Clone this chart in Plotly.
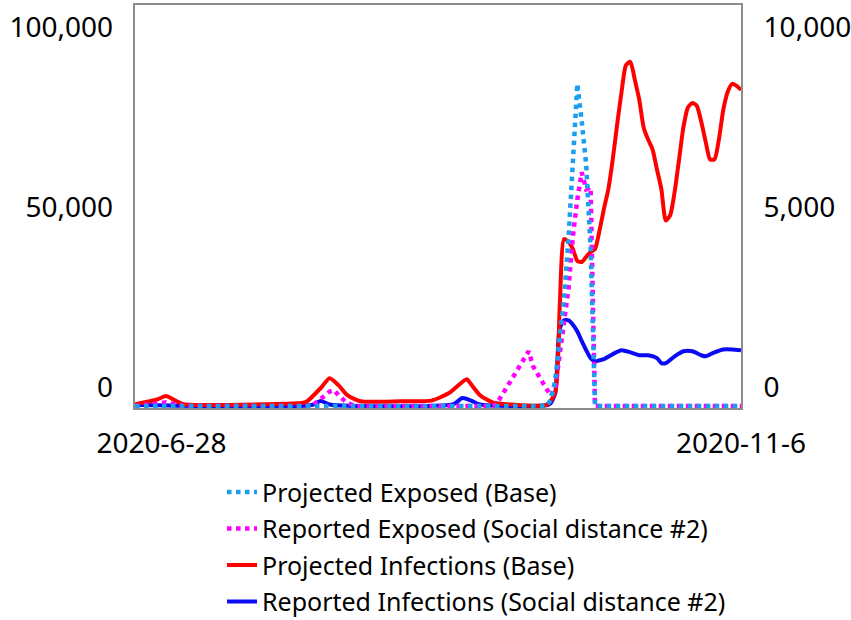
import pandas as pd
import plotly.graph_objects as go

# ---------------- data ----------------
start_date = "2020-06-22"
end_date = "2020-11-06"
xtick_dates = ["2020-06-28", "2020-11-06"]
xtick_labels = ["2020-6-28", "2020-11-6"]

left_ticks = [0, 50000, 100000]
left_labels = ["0", "50,000", "100,000"]
right_ticks = [0, 5000, 10000]
right_labels = ["0", "5,000", "10,000"]

# Projected Exposed (Base) - left axis
pe_days = [0, 93, 94, 95, 96, 97, 98, 99, 100, 101, 102, 103, 104, 137]
pe_vals = [0, 0, 1700, 7200, 18800, 29800, 46400, 68500, 89500, 79000, 67100, 43600, 0, 0]

# Reported Exposed (Social distance #2) - left axis
re_days = [0, 5, 7, 9, 11, 40, 42, 44, 45, 46, 48, 50, 81, 82, 84, 86, 88, 89, 90, 91,
           92, 93, 94, 95, 96, 97, 98, 99, 100, 101, 102, 103, 104, 137]
re_vals = [0, 500, 1000, 500, 0, 0, 2200, 4000, 4400, 3000, 800, 0, 0, 1100, 5100, 9100,
           13100, 15200, 11000, 9000, 6500, 4500, 2800, 5000, 14400, 22900, 32600, 47200,
           57400, 64900, 60200, 60800, 0, 0]

# Projected Infections (Base) - right axis
pi_days = [0, 5, 7, 9, 11, 30, 38, 39, 42, 44, 46, 48, 51, 60, 67, 71, 75, 76, 78, 81,
           85, 93, 95, 96, 97, 98, 99, 100, 101, 102, 103, 104, 105, 106, 107, 108, 109,
           110, 111, 112, 113, 114, 115, 116, 117, 118, 119, 120, 121, 122, 123, 124,
           125, 126, 127, 128, 129, 130, 131, 132, 133, 134, 135, 136, 137]
pi_vals = [50, 180, 276, 160, 50, 50, 90, 140, 500, 770, 580, 300, 130, 130, 150, 360,
           746, 600, 300, 90, 40, 30, 360, 2700, 4640, 4560, 4360, 4030, 4000, 4140,
           4280, 4360, 4860, 5470, 6020, 6850, 7820, 8730, 9470, 9560, 9060, 8510, 7730,
           7400, 7130, 6570, 6020, 5150, 5300, 5950, 6850, 7760, 8290, 8420, 8340, 7900,
           7350, 6850, 6850, 7400, 8230, 8730, 8950, 8890, 8780]

# Reported Infections (Social distance #2) - right axis
ri_days = [0, 40, 42, 44, 72, 74, 76, 78, 93, 94, 95, 96, 97, 98, 99, 100, 101, 102, 103,
           104, 105, 106, 108, 110, 112, 114, 116, 118, 119, 120, 122, 124, 126, 128, 129,
           131, 133, 135, 137]
ri_vals = [30, 30, 140, 40, 50, 220, 150, 40, 20, 80, 360, 2150, 2380, 2380, 2260, 2070,
           1800, 1550, 1330, 1240, 1270, 1300, 1440, 1550, 1490, 1410, 1410, 1330, 1190,
           1190, 1380, 1520, 1520, 1410, 1380, 1490, 1570, 1570, 1550]

names = ["Projected Exposed (Base)", "Reported Exposed (Social distance #2)",
         "Projected Infections (Base)", "Reported Infections (Social distance #2)"]


def to_dates(days):
    return pd.Timestamp(start_date) + pd.to_timedelta(days, unit="D")


FONT = "Noto Sans"
fig = go.Figure()

# infections on y (right side), exposed on y2 (left side, overlay -> drawn on top)
fig.add_trace(go.Scatter(x=to_dates(ri_days), y=ri_vals, name=names[3], mode="lines",
                         line=dict(color="#0A0AF5", width=4, shape="spline", smoothing=0.6),
                         yaxis="y", legendrank=4, legendgroup="g4"))
fig.add_trace(go.Scatter(x=to_dates(pi_days), y=pi_vals, name=names[2], mode="lines",
                         line=dict(color="#FF0000", width=4, shape="spline", smoothing=0.6),
                         yaxis="y", legendrank=3, legendgroup="g3"))
fig.add_trace(go.Scatter(x=to_dates(re_days), y=re_vals, name=names[1], mode="lines",
                         line=dict(color="#FF00FF", width=4.5, dash="dot"),
                         yaxis="y2", legendrank=2, legendgroup="g2"))
fig.add_trace(go.Scatter(x=to_dates(pe_days), y=pe_vals, name=names[0], mode="lines",
                         line=dict(color="#1A9EF0", width=4.5, dash="dot"),
                         yaxis="y2", legendrank=1, legendgroup="g1"))

fig.update_layout(
    width=851, height=620,
    margin=dict(l=135, r=110, t=5, b=212, autoexpand=False),
    paper_bgcolor="white", plot_bgcolor="white",
    font=dict(family=FONT, size=28, color="#000000"),
    showlegend=True,
    legend=dict(x=0.1436, xanchor="left", y=-0.152, yanchor="top",
                font=dict(family=FONT, size=25, color="#000000"),
                bgcolor="rgba(0,0,0,0)", traceorder="grouped", tracegroupgap=1),
    xaxis=dict(type="date", range=[start_date, end_date],
               tickvals=xtick_dates, ticktext=xtick_labels,
               showgrid=False, zeroline=False, ticks="", automargin=False,
               showline=True, mirror=True, linecolor="#8C8C8C", linewidth=2,
               ticklabelstandoff=9, tickfont=dict(size=28)),
    yaxis=dict(side="right", range=[-55.6, 11139],
               tickvals=right_ticks, ticktext=right_labels,
               showgrid=False, zeroline=False, ticks="", automargin=False,
               showline=True, mirror=True, linecolor="#8C8C8C", linewidth=2,
               ticklabelstandoff=15, ticklabelshift=-19, tickfont=dict(size=28)),
    yaxis2=dict(side="left", overlaying="y", range=[-556, 111390],
                tickvals=left_ticks, ticktext=left_labels,
                showgrid=False, zeroline=False, ticks="", showline=False, automargin=False,
                ticklabelstandoff=21, ticklabelshift=-19, tickfont=dict(size=28)),
)

fig.write_html("out.html", config={"displayModeBar": False},
               post_script="document.body.style.margin='0';")
